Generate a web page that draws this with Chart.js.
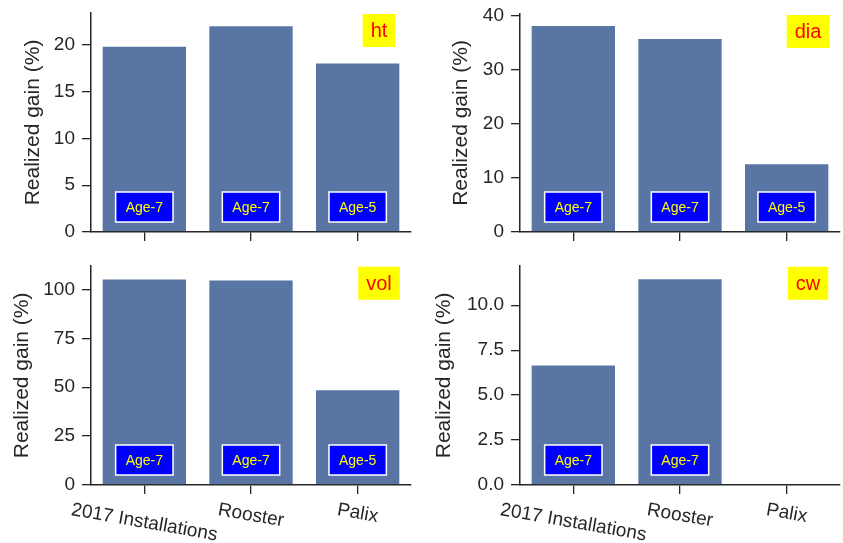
<!DOCTYPE html>
<html><head><meta charset="utf-8">
<script src="https://cdn.jsdelivr.net/npm/chart.js@4.4.1/dist/chart.umd.min.js"></script>
<style>
html,body{margin:0;padding:0;background:#fff;width:843px;height:543px;overflow:hidden}
canvas{position:absolute}
</style>
</head><body>
<canvas id="c0" width="420" height="250" style="left:0px;top:0px"></canvas>
<canvas id="c1" width="423" height="250" style="left:420px;top:0px"></canvas>
<canvas id="c2" width="420" height="293" style="left:0px;top:250px"></canvas>
<canvas id="c3" width="423" height="293" style="left:420px;top:250px"></canvas>
<script>
// ---- data ----
const categories = ['2017 Installations', 'Rooster', 'Palix'];
const ageLabels = ['Age-7', 'Age-7', 'Age-5'];
const traitNames = ['ht', 'dia', 'vol', 'cw'];
const htGain = [19.9, 22.1, 18.1];
const diaGain = [38.2, 35.8, 12.7];
const volGain = [105.6, 105.1, 48.9];
const cwGain = [6.7, 11.5, null];
const yAxisMax = [23.4, 40.25, 112.1, 12.2];
const yTickStep = [5, 10, 25, 2.5];
const yTickDecimals = [0, 0, 0, 1];
const yAxisTitle = 'Realized gain (%)';

// ---- styles ----
const FONT = "'Liberation Sans', Arial, Helvetica, sans-serif";
const INK = '#262626';
const BAR = '#5975a4';

const panels = [
  {id:'c0', trait:traitNames[0], values:htGain,  yMax:yAxisMax[0], step:yTickStep[0], dec:yTickDecimals[0], w:420, h:250, area:{l:91,  r:411, t:13,   b:232}, titleCenter:33, xLabels:false},
  {id:'c1', trait:traitNames[1], values:diaGain, yMax:yAxisMax[1], step:yTickStep[1], dec:yTickDecimals[1], w:423, h:250, area:{l:100, r:420, t:14,   b:232}, titleCenter:41, xLabels:false},
  {id:'c2', trait:traitNames[2], values:volGain, yMax:yAxisMax[2], step:yTickStep[2], dec:yTickDecimals[2], w:420, h:293, area:{l:91,  r:411, t:15.7, b:235}, titleCenter:22.5, xLabels:true},
  {id:'c3', trait:traitNames[3], values:cwGain,  yMax:yAxisMax[3], step:yTickStep[3], dec:yTickDecimals[3], w:423, h:293, area:{l:100, r:420, t:15.7, b:235}, titleCenter:24, xLabels:true}
];

function makePlugin(p) {
  return {
    id: 'annot_' + p.id,
    afterDatasetsDraw(chart) {
      const ctx = chart.ctx, a = chart.chartArea, x = chart.scales.x;
      ctx.save();
      // Age boxes
      ctx.font = '14px ' + FONT;
      p.values.forEach((v, i) => {
        if (v == null) return;
        const cx = x.getPixelForValue(i);
        const cy = a.bottom - 25;
        const tw = ctx.measureText(ageLabels[i]).width;
        const bw = tw + 20, bh = 30;
        ctx.fillStyle = '#0000ff';
        ctx.fillRect(cx - bw / 2, cy - bh / 2, bw, bh);
        ctx.strokeStyle = '#ffffff';
        ctx.lineWidth = 1.5;
        ctx.strokeRect(cx - bw / 2, cy - bh / 2, bw, bh);
        ctx.fillStyle = '#ffff00';
        ctx.textAlign = 'center';
        ctx.textBaseline = 'middle';
        ctx.fillText(ageLabels[i], cx, cy + 1);
      });
      // trait box
      ctx.font = '20px ' + FONT;
      const tx = a.left + 0.9 * (a.right - a.left);
      const ty = a.top + 17.5;
      const tw = ctx.measureText(p.trait).width;
      const bw = tw + 16, bh = 33;
      ctx.fillStyle = '#ffff00';
      ctx.fillRect(tx - bw / 2, ty - bh / 2, bw, bh);
      ctx.fillStyle = '#ff0000';
      ctx.textAlign = 'center';
      ctx.textBaseline = 'middle';
      ctx.fillText(p.trait, tx, ty + 1);
      ctx.restore();
    },
    afterDraw(chart) {
      if (!p.xLabels) return;
      const ctx = chart.ctx, a = chart.chartArea, x = chart.scales.x;
      ctx.save();
      ctx.font = '19px ' + FONT;
      ctx.fillStyle = INK;
      const th = 10 * Math.PI / 180;
      categories.forEach((lab, i) => {
        const tx = x.getPixelForTick(i);
        const w = ctx.measureText(lab).width;
        const lh = 19 * 1.15;
        const bbH = w * Math.sin(th) + lh * Math.cos(th);
        const top = a.bottom + 9 + 5;
        ctx.save();
        ctx.translate(tx, top + bbH / 2);
        ctx.rotate(th);
        ctx.textAlign = 'center';
        ctx.textBaseline = 'middle';
        ctx.fillText(lab, 0, 0);
        ctx.restore();
      });
      ctx.restore();
    }
  };
}

panels.forEach(p => {
  new Chart(document.getElementById(p.id), {
    type: 'bar',
    data: {
      labels: categories,
      datasets: [{
        data: p.values,
        backgroundColor: BAR,
        borderColor: '#ffffff',
        borderWidth: 1,
        barPercentage: 0.8,
        categoryPercentage: 1.0
      }]
    },
    options: {
      responsive: false,
      animation: false,
      events: [],
      layout: {padding: {left: 0, top: p.area.t, right: p.w - p.area.r, bottom: 0}},
      plugins: {legend: {display: false}, tooltip: {enabled: false}},
      scales: {
        x: {
          type: 'category',
          offset: true,
          grid: {offset: false, drawOnChartArea: false, drawTicks: true, tickLength: 9, color: INK, lineWidth: 1.3},
          border: {display: true, color: INK, width: 1.5},
          ticks: {display: false},
          afterFit(s) { s.height = p.h - p.area.b; s.paddingLeft = 0; s.paddingRight = 0; }
        },
        y: {
          min: 0,
          max: p.yMax,
          grid: {drawOnChartArea: false, drawTicks: true, tickLength: 9, color: INK, lineWidth: 1.3},
          border: {display: true, color: INK, width: 1.5},
          ticks: {
            stepSize: p.step,
            includeBounds: false,
            font: {family: FONT, size: 19},
            color: INK,
            padding: 7,
            callback: v => p.dec ? Number(v).toFixed(p.dec) : String(v)
          },
          afterBuildTicks(s) {
            s.ticks = s.ticks.filter(t => {
              const k = t.value / p.step;
              return Math.abs(k - Math.round(k)) < 1e-6;
            });
          },
          title: {
            display: true,
            text: yAxisTitle,
            font: {family: FONT, size: 21},
            color: INK,
            padding: {top: p.titleCenter - 12.6, bottom: 0}
          },
          afterFit(s) { s.width = p.area.l; s.paddingTop = 0; s.paddingBottom = 0; }
        }
      }
    },
    plugins: [makePlugin(p)]
  });
});
</script>
</body></html>
